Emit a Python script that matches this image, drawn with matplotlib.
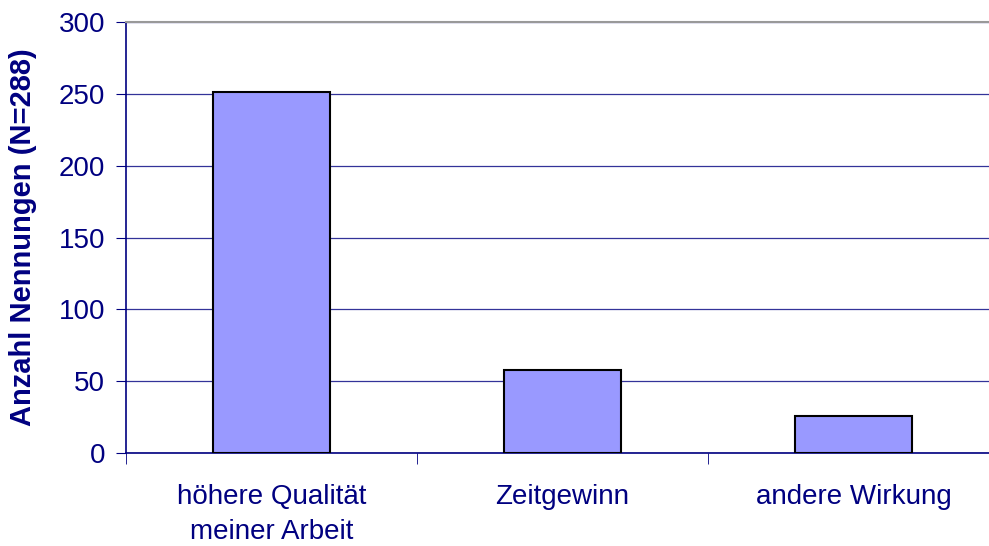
import numpy as np
from matplotlib import pyplot as plt

categories = ["höhere Qualität\nmeiner Arbeit", "Zeitgewinn", "andere Wirkung"]
values = [251, 58, 26]
yticks = [0, 50, 100, 150, 200, 250, 300]

navy = "#000080"
plt.rcParams['font.family'] = ['Liberation Sans', 'DejaVu Sans']

fig = plt.figure(figsize=(9.89, 5.46), dpi=100)
ax = fig.add_axes([126/989, 1-453/546, 873/989, 431/546])

x = np.arange(len(categories))
ax.bar(x, values, width=0.4, color="#9999FF", edgecolor="black", linewidth=1.5, zorder=3)

ax.set_xlim(-0.5, len(categories)-0.5)
ax.set_ylim(0, 300)
ax.set_yticks(yticks)
ax.yaxis.grid(True, color=navy, linewidth=0.9, alpha=0.8, zorder=0)
ax.set_xticks(x)
ax.set_xticklabels(categories, fontsize=20, color=navy)
for lbl in ax.get_xticklabels():
    lbl.set_linespacing(1.45)
ax.set_xticks(np.arange(-0.5, len(categories)), minor=True)
ax.tick_params(axis="x", which="major", length=0, pad=22)
ax.tick_params(axis="x", which="minor", length=8, color=navy, direction="out")
ax.tick_params(axis="y", length=7, color=navy, labelsize=20, labelcolor=navy, pad=8)

ax.spines["right"].set_visible(False)
ax.spines["top"].set_color("#999999")
ax.spines["top"].set_linewidth(1.5)
for s in ["left", "bottom"]:
    ax.spines[s].set_color(navy)
    ax.spines[s].set_linewidth(1.2)

ax.set_ylabel("Anzahl Nennungen (N=288)", fontsize=21, fontweight="bold", color=navy)
ax.yaxis.set_label_coords(-89/873, 0.5)

fig.savefig("out.png", dpi=100)
